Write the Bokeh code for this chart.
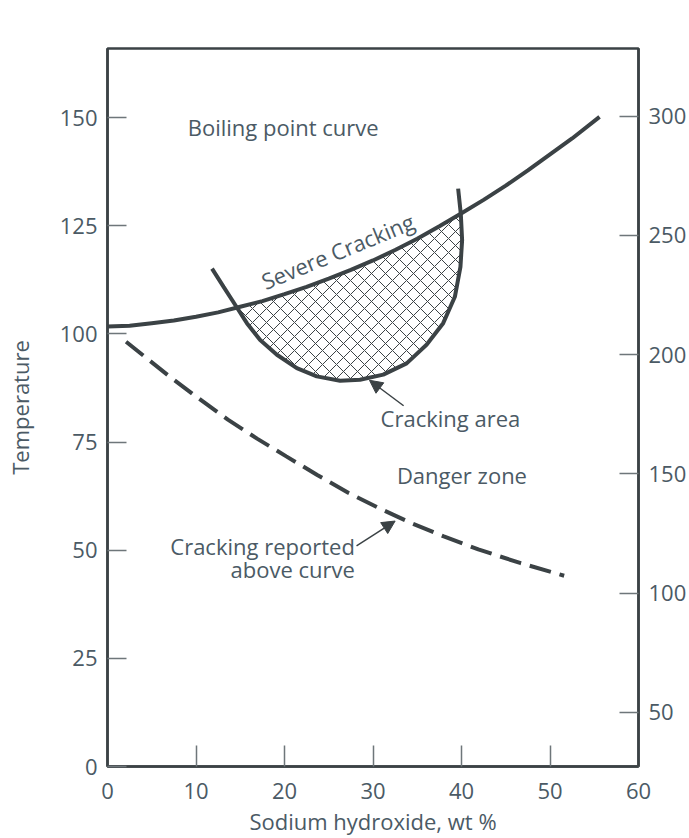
from bokeh.plotting import figure
from bokeh.models import Range1d, LinearAxis, FixedTicker, Label, Arrow, NormalHead
from bokeh.embed import file_html
from bokeh.resources import INLINE

# ---- data ----
boil_x = [0, 2.5, 5, 7.5, 10, 12.5, 15, 17.5, 20, 22.5, 25, 27.5, 30, 32.5, 35, 37.5, 40,
          42.5, 45, 47.5, 50, 52.5, 55.6]
boil_t = [101.7, 101.9, 102.5, 103.1, 104.0, 105.0, 106.3, 107.6, 109.2, 110.9, 112.8, 114.8,
          117.0, 119.4, 122.0, 124.9, 127.9, 131.0, 134.3, 137.8, 141.5, 145.2, 150.2]

crack_x = [11.81, 13.12, 14.44, 15.75, 17.25, 19.14, 21.39, 23.65, 26.28, 28.53, 31.16, 33.80,
           36.05, 37.93, 39.25, 39.88, 40.07, 39.92, 39.62]
crack_t = [115.1, 110.9, 106.7, 102.5, 98.6, 95.2, 92.1, 90.2, 89.2, 89.4, 90.6, 93.2,
           97.5, 102.5, 108.6, 115.5, 121.7, 127.8, 133.6]

dash_x = [2.1, 7.0, 10.3, 13.6, 16.9, 20.2, 23.7, 27.2, 30.7, 34.2, 38.0, 41.9, 46.7, 51.6]
dash_t = [98.2, 90.2, 85.1, 80.2, 75.8, 71.7, 67.4, 63.3, 59.7, 56.4, 53.2, 50.2, 47.0, 44.1]

x_ticks = [0, 10, 20, 30, 40, 50, 60]
c_ticks = [0, 25, 50, 75, 100, 125, 150]
f_ticks = [50, 100, 150, 200, 250, 300]

FONT = "Open Sans"
TEXT = "#4b5a65"
LINE = "#3b4245"
TICK = "#6e767a"
FS = "22px"

p = figure(width=689, height=838, x_range=Range1d(0, 60), y_range=Range1d(0, 166),
           output_backend="svg", toolbar_location=None,
           min_border_left=107, min_border_right=50, min_border_top=48, min_border_bottom=70)
p.extra_y_ranges = {"F": Range1d(27.3, 328.3)}
p.add_layout(LinearAxis(y_range_name="F", ticker=FixedTicker(ticks=f_ticks)), "right")

p.grid.visible = False
p.outline_line_color = LINE
p.outline_line_width = 2.5
p.background_fill_color = "white"
p.border_fill_color = "white"

p.xaxis.ticker = FixedTicker(ticks=x_ticks)
p.yaxis[0].ticker = FixedTicker(ticks=c_ticks)
p.xaxis.axis_label = "Sodium hydroxide, wt %"
p.yaxis[0].axis_label = "Temperature"

for ax in p.axis:
    ax.axis_line_color = LINE
    ax.axis_line_width = 2.5
    ax.major_tick_in = 19
    ax.major_tick_out = 0
    ax.minor_tick_in = 0
    ax.minor_tick_out = 0
    ax.major_tick_line_color = TICK
    ax.major_tick_line_width = 1.5
    ax.major_label_text_font = FONT
    ax.major_label_text_font_size = FS
    ax.major_label_text_color = TEXT
    ax.major_label_standoff = 10
    ax.axis_label_text_font = FONT
    ax.axis_label_text_font_size = FS
    ax.axis_label_text_color = TEXT
    ax.axis_label_text_font_style = "normal"
p.xaxis.major_tick_in = 21
p.xaxis.major_label_standoff = 16
p.xaxis.axis_label_standoff = 4
p.yaxis[0].axis_label_standoff = 22

# hatched cracking area (between U-curve and boiling curve)
i0, i1 = 2, 17
lo, hi = crack_x[i0], crack_x[i1]
patch_x = crack_x[i0:i1 + 1] + [bx for bx in reversed(boil_x) if lo < bx < hi]
patch_t = crack_t[i0:i1 + 1] + [bt for bx, bt in zip(reversed(boil_x), reversed(boil_t)) if lo < bx < hi]
p.patch(patch_x, patch_t, fill_alpha=0, line_color=None,
        hatch_pattern="diagonal_cross", hatch_color=LINE, hatch_weight=1, hatch_scale=14)

p.line(boil_x, boil_t, line_color=LINE, line_width=4)
p.line(crack_x, crack_t, line_color=LINE, line_width=4)
p.line(dash_x, dash_t, line_color=LINE, line_width=4, line_dash="22 9")

# arrows
p.add_layout(Arrow(x_start=33.46, y_start=83.4, x_end=29.6, y_end=89.3,
                   line_color=LINE, line_width=1.5,
                   end=NormalHead(size=13, fill_color=LINE, line_color=LINE)))
p.add_layout(Arrow(x_start=28.14, y_start=51.0, x_end=32.5, y_end=56.75,
                   line_color=LINE, line_width=1.5,
                   end=NormalHead(size=13, fill_color=LINE, line_color=LINE)))

def lab(x, y, t, align="left", angle=0.0):
    p.add_layout(Label(x=x, y=y, text=t, text_font=FONT, text_font_size=FS,
                       text_color=TEXT, text_align=align, text_baseline="middle", angle=angle))

lab(9.06, 147.8, "Boiling point curve")
lab(26.0, 119.2, "Severe Cracking", align="center", angle=0.39)
lab(30.86, 80.6, "Cracking area")
lab(32.7, 67.5, "Danger zone")
lab(27.95, 51.0, "Cracking reported", align="right")
lab(27.95, 45.6, "above curve", align="right")
lab(-3.83, 171.6, "°C", align="center")
lab(63.6, 171.8, "°F", align="center")

open("out.html", "w").write(file_html(p, INLINE))
